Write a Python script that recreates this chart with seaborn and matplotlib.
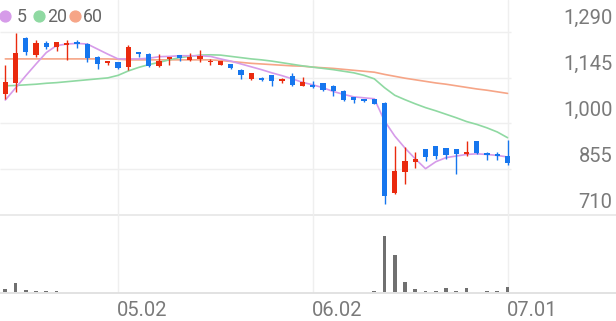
import numpy as np
import pandas as pd
import matplotlib
matplotlib.use('Agg')
import matplotlib.pyplot as plt
import seaborn as sns

# ---------------- data ----------------
opens = [1092, 1129, 1269, 1217, 1254, 1243, 1249, 1256, 1251, 1211,
         1190, 1193, 1177, 1227, 1221, 1182, 1205, 1216, 1201, 1204,
         1194, 1185, 1188, 1169, 1140, 1145, 1153, 1135, 1151, 1119,
         1121, 1127, 1119, 1103, 1084, 1077, 1077, 1066, 781, 847,
         879, 918, 929, 921, 918, 904, 945, 908, 903, 897]
highs = [1184, 1286, 1273, 1264, 1261, 1258, 1265, 1265, 1253, 1214,
         1198, 1194, 1247, 1227, 1223, 1219, 1211, 1216, 1224, 1232,
         1205, 1197, 1189, 1172, 1158, 1146, 1154, 1145, 1161, 1148,
         1135, 1129, 1121, 1105, 1085, 1077, 1077, 1067, 929, 926,
         911, 920, 930, 923, 920, 945, 946, 909, 911, 947]
lows = [1078, 1100, 1217, 1209, 1235, 1230, 1199, 1237, 1193, 1172,
        1186, 1172, 1168, 1209, 1180, 1179, 1185, 1198, 1198, 1193,
        1185, 1184, 1172, 1140, 1138, 1135, 1119, 1129, 1119, 1118,
        1112, 1104, 1087, 1071, 1064, 1069, 1061, 744, 778, 809,
        858, 881, 887, 889, 839, 897, 903, 884, 884, 869]
closes = [1132, 1222, 1227, 1253, 1242, 1256, 1253, 1251, 1207, 1188,
          1196, 1174, 1243, 1219, 1182, 1198, 1210, 1207, 1209, 1212,
          1198, 1196, 1174, 1153, 1158, 1137, 1135, 1142, 1122, 1130,
          1114, 1106, 1103, 1074, 1074, 1071, 1063, 770, 850, 881,
          887, 895, 897, 899, 904, 911, 908, 899, 896, 876]
volumes = [30, 97, 20, 10, 10, 15, 8, 5, 5, 8,
           5, 4, 5, 5, 5, 5, 5, 5, 5, 5,
           5, 5, 5, 5, 5, 5, 8, 8, 5, 5,
           8, 5, 5, 8, 8, 3, 10, 573, 380, 110,
           35, 17, 10, 43, 13, 43, 7, 10, 17, 57]
ma5 = [1074, 1112, 1151, 1188, 1224, 1246, 1251, 1253, 1251, 1235,
       1219, 1204, 1204, 1204, 1206, 1211, 1212, 1214, 1214, 1214,
       1212, 1204, 1197, 1188, 1179, 1170, 1160, 1151, 1141, 1130,
       1122, 1113, 1101, 1092, 1084, 1081, 1078, 1008, 960, 922,
       888, 857, 879, 892, 897, 902, 904, 902, 899, 894]
ma20 = [1119, 1120, 1122, 1124, 1127, 1129, 1132, 1135, 1138, 1141,
        1144, 1152, 1166, 1177, 1186, 1193, 1201, 1208, 1212, 1216,
        1217, 1216, 1212, 1208, 1204, 1201, 1197, 1192, 1187, 1182,
        1178, 1174, 1170, 1165, 1160, 1152, 1141, 1113, 1089, 1075,
        1062, 1050, 1040, 1029, 1018, 1006, 997, 986, 973, 955]
ma60 = [1204, 1204, 1204, 1204, 1204, 1204, 1204, 1204, 1204, 1204,
        1204, 1203, 1201, 1201, 1201, 1201, 1201, 1201, 1201, 1201,
        1201, 1199, 1196, 1193, 1190, 1188, 1186, 1184, 1182, 1181,
        1178, 1176, 1174, 1171, 1168, 1165, 1162, 1155, 1149, 1143,
        1138, 1133, 1128, 1124, 1119, 1114, 1109, 1105, 1100, 1095]
price_ticks = [1290, 1145, 1000, 855, 710]
price_tick_labels = ['1,290', '1,145', '1,000', '855', '710']
date_tick_pos = [11, 30, 49]
date_tick_labels = ['05.02', '06.02', '07.01']
legend_labels = ['5', '20', '60']

# ---------------- style ----------------
sns.set_theme(style='white')
plt.rcParams['font.family'] = ['Roboto', 'DejaVu Sans']

UP = '#ea2a0e'
DOWN = '#1676ee'
C5, C20, C60 = '#d69be9', '#8fd9a2', '#f6a587'
GRID = '#efefef'
TXT = '#7a7a7a'

W, H = 616, 321
fig = plt.figure(figsize=(W / 100, H / 100), dpi=100)
fig.patch.set_facecolor('white')


def px_axes(left, top, right, bottom):
    return fig.add_axes([left / W, 1 - bottom / H, (right - left) / W, (bottom - top) / H])


PRICE_BOTTOM = 215.2
VOL_BOTTOM = 293.3
ax = px_axes(0, 0, W, PRICE_BOTTOM)
axv = px_axes(0, PRICE_BOTTOM, W, VOL_BOTTOM)

n = len(closes)
idx = np.arange(n)
step = 10.25
x0 = 5.3
xmin = -x0 / step
xmax = xmin + W / step
grid_end = xmin + 510.7 / step

# price y mapping: 1290 at 31.7px, 710 at bottom
ppp = (1290 - 710) / (PRICE_BOTTOM - 31.7)
ytop = 1290 + 31.7 * ppp

for a in (ax, axv):
    a.set_xlim(xmin, xmax)
    a.set_facecolor('none')
    for s in a.spines.values():
        s.set_visible(False)
    a.set_xticks([])
    a.set_yticks([])
    a.set_xlabel('')
    a.set_ylabel('')
ax.set_ylim(710, ytop)

# grid
ax.hlines(price_ticks[:-1], xmin, grid_end, color=GRID, lw=1.0, zorder=0)
ax.axhline(710, color='#e6e6e6', lw=1.2, zorder=0, clip_on=False)
for p in date_tick_pos:
    ax.axvline(p, color=GRID, lw=1.0, zorder=0)
    axv.axvline(p, color=GRID, lw=1.0, zorder=0)

# moving averages
df = pd.DataFrame({'i': idx, 'ma5': ma5, 'ma20': ma20, 'ma60': ma60})
sns.lineplot(data=df, x='i', y='ma60', color=C60, lw=1.2, ax=ax, zorder=2)
sns.lineplot(data=df, x='i', y='ma20', color=C20, lw=1.2, ax=ax, zorder=2)
sns.lineplot(data=df, x='i', y='ma5', color=C5, lw=1.2, ax=ax, zorder=2)

# candles
o = np.array(opens, float)
c = np.array(closes, float)
hi = np.array(highs, float)
lo = np.array(lows, float)
up = c >= o
cols = [UP if u else DOWN for u in up]
bottoms = np.minimum(o, c)
heights = np.maximum(np.abs(c - o), 1.3 * ppp)
ax.vlines(idx, lo, hi, colors=cols, lw=1.0, zorder=3)
ax.bar(idx, heights, bottom=bottoms, width=0.5, color=cols, linewidth=0, zorder=4)

# volume
vdf = pd.DataFrame({'i': idx, 'v': volumes})
sns.barplot(data=vdf, x='i', y='v', color='#707070', width=0.36, native_scale=True,
            ax=axv, saturation=1, linewidth=0, zorder=3)
axv.set_xlim(xmin, xmax)
vmax = max(volumes) * (VOL_BOTTOM - PRICE_BOTTOM) / 57.3
axv.set_ylim(-0.012 * vmax, vmax)
axv.set_xticks([])
axv.set_yticks([])
axv.set_xlabel('')
axv.set_ylabel('')
axv.axhline(-0.012 * vmax, color='#dddddd', lw=1.2, zorder=4, clip_on=False)

# y tick labels (right side, above grid lines)
for val, lab in zip(price_ticks, price_tick_labels):
    ypx = 31.7 + (1290 - val) / ppp
    fig.text(612.7 / W, 1 - (ypx - 7.3) / H, lab, ha='right', va='baseline',
             fontsize=14.5, color=TXT)

# date labels
for p, lab in zip(date_tick_pos, date_tick_labels):
    xpx = x0 + p * step
    fig.text((xpx - 1) / W, 1 - 316.5 / H, lab, ha='left', va='baseline',
             fontsize=14.5, color=TXT)

# legend
leg_dots = [5, 39.3, 75]
leg_txt = [17, 46.7, 83.3]
for dx, tx, lab, col in zip(leg_dots, leg_txt, legend_labels, [C5, C20, C60]):
    fig.add_artist(plt.Line2D([dx / W], [1 - 15.7 / H], marker='o', markersize=7.8,
                              color=col, linestyle='none', transform=fig.transFigure))
    fig.text(tx / W, 1 - 21.5 / H, lab, ha='left', va='baseline', fontsize=12.8,
             color='#666666')

fig.savefig('out.png', dpi=100, facecolor='white')
